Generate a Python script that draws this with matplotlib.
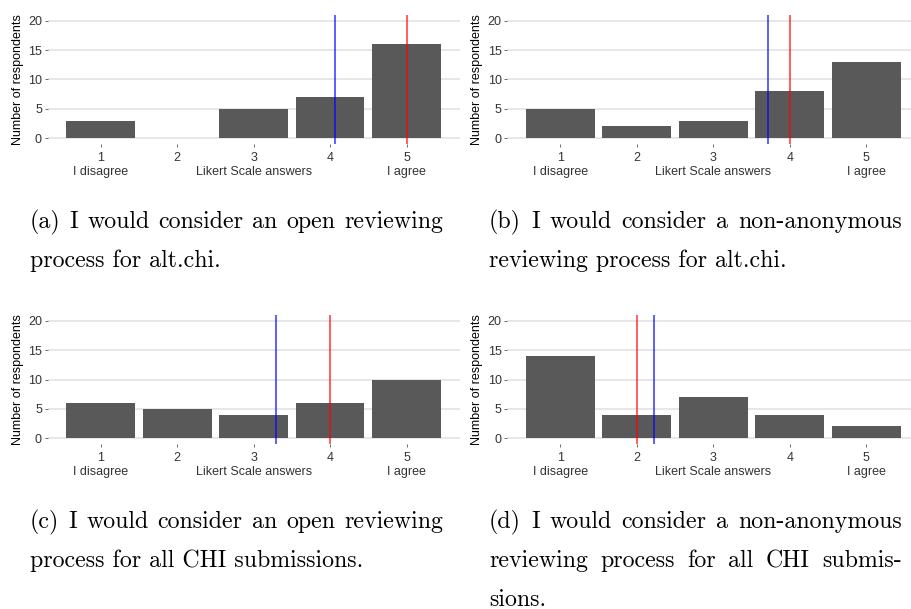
import matplotlib
matplotlib.use('Agg')
import matplotlib.pyplot as plt
import numpy as np

# survey answers (Likert 1-5), 31 respondents per question
likert = [1, 2, 3, 4, 5]
counts_a = [3, 0, 5, 7, 16]
counts_b = [5, 2, 3, 8, 13]
counts_c = [6, 5, 4, 6, 10]
counts_d = [14, 4, 7, 4, 2]
tick_labels = ['1\nI disagree', '2', '3\nLikert Scale answers', '4', '5\nI agree']

captions_a = ['(a) I would consider an open reviewing', 'process for alt.chi.']
captions_b = ['(b) I would consider a non-anonymous', 'reviewing process for alt.chi.']
captions_c = ['(c) I would consider an open reviewing', 'process for all CHI submissions.']
captions_d = ['(d) I would consider a non-anonymous', 'reviewing process for all CHI submis-', 'sions.']

W, H = 911, 609
fig = plt.figure(figsize=(W / 100, H / 100), dpi=100)
plt.rcParams['font.family'] = ['Liberation Sans', 'DejaVu Sans']


def panel(left, right, top, bottom, counts):
    ax = fig.add_axes([left / W, 1 - bottom / H, (right - left) / W, (bottom - top) / H])
    ax.bar(likert, counts, width=0.9, color='#595959', zorder=2)
    vals = np.repeat(likert, counts)
    ax.axvline(vals.mean(), color='blue', lw=1.1, alpha=0.8, zorder=3)
    ax.axvline(np.median(vals), color='red', lw=1.1, alpha=0.8, zorder=3)
    ax.set_xlim(0.305, 5.695)
    ax.set_ylim(-1, 21)
    ax.set_yticks([0, 5, 10, 15, 20])
    ax.set_xticks(likert)
    ax.set_xticklabels(tick_labels, linespacing=1.25)
    ax.grid(axis='y', color='#E0E0E0', lw=1.1, zorder=0)
    for s in ax.spines.values():
        s.set_visible(False)
    ax.tick_params(colors='#333333', labelcolor='#333333', labelsize=9, length=2.5, width=0.5, pad=1.5)
    ax.tick_params(axis='x', pad=3)
    ax.set_ylabel('Number of respondents', fontsize=9, labelpad=3)
    return ax


panel(47.5, 459.7, 15, 144, counts_a)
panel(507.2, 919.5, 15, 144, counts_b)
panel(47.5, 459.7, 315, 444, counts_c)
panel(507.2, 919.5, 315, 444, counts_d)

cap_kw = dict(family=['cmr10', 'DejaVu Serif'], fontsize=17.2, va='baseline', ha='left')
renderer = fig.canvas.get_renderer()


def caption(lines, x0, x1, y0, dy=38.7):
    # justified lines, last one left aligned
    for i, line in enumerate(lines):
        y = 1 - (y0 + i * dy) / H
        if i == len(lines) - 1:
            fig.text(x0 / W, y, line, **cap_kw)
            continue
        words = line.split()
        ts = [fig.text(0, y, w, **cap_kw) for w in words]
        widths = [t.get_window_extent(renderer).width for t in ts]
        gap = (x1 - x0 - sum(widths)) / (len(words) - 1)
        x = x0
        for t, w in zip(ts, widths):
            t.set_x(x / W)
            x += w + gap


caption(captions_a, 30, 443, 228)
caption(captions_b, 489, 902, 228)
caption(captions_c, 30, 443, 528.3)
caption(captions_d, 489, 902, 528.3)

fig.savefig('out.png', dpi=100)
